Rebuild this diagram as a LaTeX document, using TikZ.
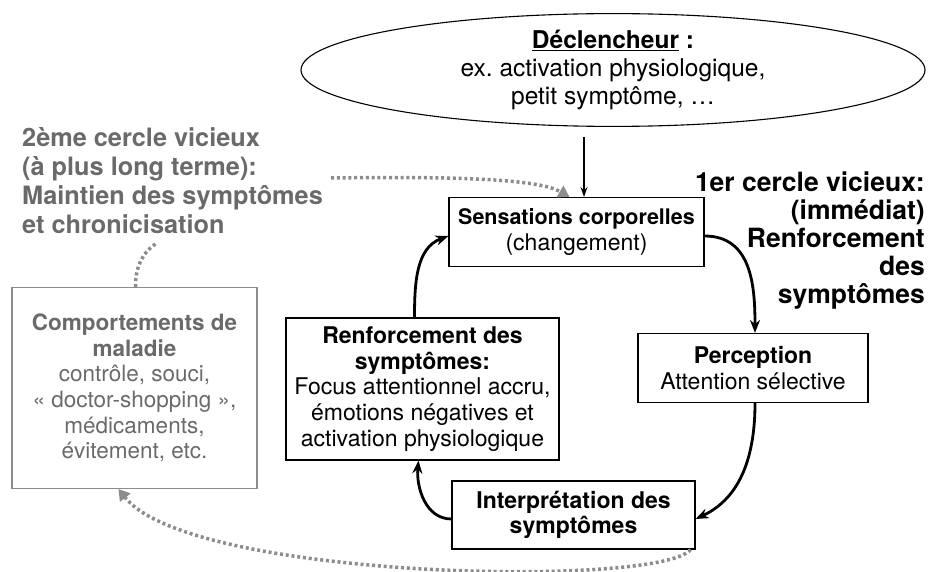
\documentclass[tikz,border=0pt]{standalone}
\usepackage{fontspec}
\setmainfont{TeX Gyre Heros}
\usetikzlibrary{arrows.meta,shapes.geometric}
\definecolor{gtext}{HTML}{6A6A6A}
\definecolor{gline}{HTML}{8C8C8C}
\frenchspacing
\begin{document}
\begin{tikzpicture}[x=1pt,y=-1pt,
  box/.style={draw=black,line width=1.1pt,rectangle,inner sep=0pt,align=center,
    font=\fontsize{23}{25.6}\selectfont},
  graybox/.style={box,draw=gline,text=gtext,font=\fontsize{22.5}{25.6}\selectfont},
  cyc/.style={line width=2.8pt,-{Stealth[length=13pt,width=10pt]}},
  trig/.style={line width=1.3pt,-{Stealth[length=10pt,width=7pt]}},
  dots/.style={draw=gline,line width=3.5pt,dash pattern=on 3pt off 2.8pt},
  dotarrow/.style={dots,-{Triangle[length=11pt,width=13pt]}},
  lbl/.style={inner sep=0pt}
]
\useasboundingbox (0,0) rectangle (928,572);

\node[ellipse,draw=black,line width=1.1pt,minimum width=624pt,minimum height=112pt,
  align=center,inner sep=0pt,font=\fontsize{24.5}{28}\selectfont] (trig) at (613,70)
  {\textbf{\underline{Déclencheur} :}\\ex. activation physiologique,\\petit symptôme, …};

\node[box,minimum width=255pt,minimum height=69pt] (sens) at (576.5,232)
  {{\fontsize{21.5}{25.6}\selectfont\textbf{Sensations corporelles}}\\(changement)};
\node[box,minimum width=230pt,minimum height=69pt] (perc) at (753,368)
  {\textbf{Perception}\\Attention sélective};
\node[box,minimum width=243pt,minimum height=68pt] (interp) at (573.5,515)
  {\textbf{Interprétation des}\\\textbf{symptômes}};
\node[box,minimum width=273pt,minimum height=142pt] (renf) at (422.5,389)
  {\textbf{Renforcement des}\\\textbf{symptômes:}\\Focus attentionnel accru,\\émotions négatives et\\activation physiologique};
\node[graybox,minimum width=245pt,minimum height=201pt] (comp) at (134.5,388)
  {\textbf{Comportements de}\\\textbf{maladie}\\contrôle, souci,\\« doctor-shopping »,\\médicaments,\\évitement, etc.};

\node[lbl,text=gtext,align=left,anchor=west,font=\bfseries\fontsize{25.3}{29}\selectfont] (second) at (22,181)
  {2ème cercle vicieux\\(à plus long terme):\\Maintien des symptômes\\et chronicisation};
\node[lbl,text=black,align=right,anchor=east,font=\bfseries\fontsize{26.5}{28}\selectfont] (first) at (925,241)
  {1er cercle vicieux:\\(immédiat)\\Renforcement\hspace{0.35em}\\des\\symptômes};

% trigger arrow
\coordinate (tstart) at (584,137);
\draw[trig] (tstart) -- (tstart |- sens.north);

% vicious circle
\draw[cyc] ([yshift=-4pt]sens.east) to[out=0,in=90,looseness=1.1] ([xshift=2pt]perc.north);
\draw[cyc] ([xshift=2pt]perc.south) to[out=-90,in=25,looseness=1] ([yshift=-4pt]interp.east);
\draw[cyc] ([yshift=-4pt]interp.west) to[out=180,in=-95,looseness=1] ([xshift=-4pt]renf.south);
\draw[cyc] ([xshift=-8pt]renf.north) to[out=90,in=200,looseness=1] ([yshift=-4pt]sens.west);

% second circle (dotted)
\coordinate (dA) at (331,178);
\draw[dotarrow] (dA) .. controls (470,176) and (540,180) .. ([xshift=-7pt]sens.north);
\coordinate (dB) at (157,243);
\draw[dots] ([xshift=1pt]comp.north) .. controls (135,265) and (145,250) .. (dB);
\draw[dotarrow] ([xshift=-5pt]interp.south east) .. controls (660,588) and (190,580) .. ([xshift=-16pt]comp.south);
\end{tikzpicture}
\end{document}
